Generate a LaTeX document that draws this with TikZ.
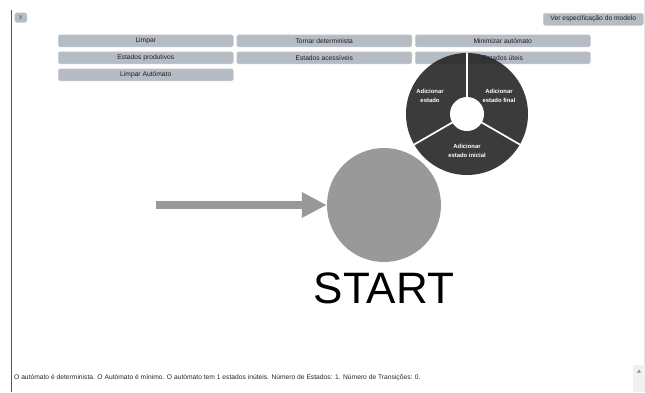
\documentclass[tikz,border=0pt]{standalone}
\usepackage{fontspec}
\setmainfont{Liberation Sans}
\usetikzlibrary{arrows.meta}
\definecolor{btngray}{HTML}{B5BCC4}
\definecolor{btnedge}{HTML}{C9CED4}
\definecolor{btntext}{HTML}{1E1E1E}
\definecolor{piefill}{HTML}{262626}
\definecolor{stategray}{HTML}{999999}
\definecolor{framegray}{HTML}{555555}
\definecolor{scrollgray}{HTML}{F1F1F1}
\begin{document}
\begin{tikzpicture}[x=1pt,y=1pt,
  btn/.style={fill=btngray, draw=btnedge, line width=0.5pt, rounded corners=1.5pt,
    minimum height=12pt, inner sep=0pt, anchor=north west, text=btntext,
    font=\fontsize{6.7}{7}\selectfont},
  colbtn/.style={btn, minimum width=175pt},
  pielabel/.style={text=white, align=center, font=\bfseries\fontsize{5.9}{8.3}\selectfont},
  divider/.style={white, line width=1.7pt},
]
\useasboundingbox (0,0) rectangle (645,-392);
\fill[white] (0,0) rectangle (645,-392);

% page frame
\draw[framegray, line width=0.9pt] (11.5,-10) -- (11.5,-392);
\draw[black!10, line width=0.6pt] (644.5,0) -- (644.5,-392);

% toolbar
\node[btn, minimum width=12pt, minimum height=9.5pt, font=\fontsize{5.5}{5.5}\selectfont, text=black!70] (close) at (14.5,-12.5) {X};
\node[btn, minimum width=100pt] (spec) at (543,-13) {Ver especificação do modelo};

\node[colbtn] (limpar) at (58,-34.5) {Limpar};
\node[colbtn] (determ) at (236.5,-34.5) {Tornar determinista};
\node[colbtn] (minim) at (415,-34.5) {Minimizar autómato};
\node[colbtn] (produt) at (58,-51.5) {Estados produtivos};
\node[colbtn] (acess) at (236.5,-51.5) {Estados acessíveis};
\node[colbtn] (uteis) at (415,-51.5) {Estados úteis};
\node[colbtn] (limpaut) at (58,-68.5) {Limpar Autómato};

% context menu
\coordinate (pc) at (467,-114);
\fill[piefill, fill opacity=0.9] (pc) circle[radius=61];
\draw[divider] (pc) -- ++(90:61pt);
\draw[divider] (pc) -- ++(210:61pt);
\draw[divider] (pc) -- ++(330:61pt);
\fill[white] (pc) circle[radius=17];
\node[pielabel] (addst) at (430,-96) {Adicionar\\estado};
\node[pielabel] (addfin) at (499,-96) {Adicionar\\estado final};
\node[pielabel] (addini) at (467,-151) {Adicionar\\estado inicial};

% automaton
\node[circle, fill=stategray, minimum size=114pt, inner sep=0pt] (start) at (384,-205) {};
\node[anchor=base, inner sep=0pt, font=\fontsize{44}{44}\selectfont] (startlbl) at (384,-303) {START};
\coordinate (initfrom) at (156,-205);
\draw[stategray, line width=8pt, -{Triangle[length=25pt,width=24pt]}] (initfrom) -- (start.west);

% status line
\node[anchor=base west, inner sep=0pt, font=\fontsize{6.7}{8}\selectfont, text=black!85] (status) at (14,-379.5)
  {O autómato é determinista. O Autómato é mínimo. O autómato tem 1 estados inúteis. Número de Estados: 1. Número de Transições: 0.};

% scrollbar
\fill[scrollgray] (633,-365) rectangle (645,-392);
\fill[black!45] (637.2,-372.5) -- (640.8,-372.5) -- (639,-369.5) -- cycle;
\end{tikzpicture}
\end{document}
